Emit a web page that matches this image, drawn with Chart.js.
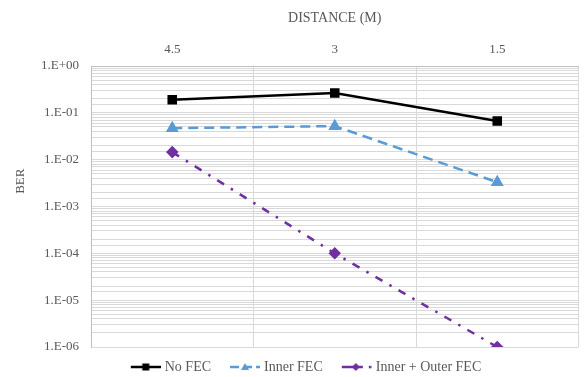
<!DOCTYPE html>
<html>
<head>
<meta charset="utf-8">
<script src="https://cdn.jsdelivr.net/npm/chart.js@4"></script>
<style>
  html, body { margin: 0; padding: 0; background: #fff; }
  #wrap { width: 586px; height: 377px; }
</style>
</head>
<body>
<div id="wrap"><canvas id="chart" width="586" height="377"></canvas></div>
<script>
// distances on the top axis
var distances = ['4.5', '3', '1.5'];

// BER values
var noFec = [0.19, 0.265, 0.067];
var innerFec = [0.047, 0.052, 0.0033];
var innerOuterFec = [0.0145, 0.0001, 0.000001];

var textColor = '#595959';
var gridColor = '#d9d9d9';
var serif = '"Liberation Serif", "DejaVu Serif", serif';
var font = { family: serif, size: 13 };
var bigFont = { family: serif, size: 14 };

// legend icon: line + marker like the spreadsheet legend,
// drawn 9px in from the left so the items sit apart
function legendIcon(color, dash, marker, dot) {
    var c = document.createElement('canvas');
    c.width = 39; c.height = 12;
    var ctx = c.getContext('2d');
    var x0 = 9;
    ctx.strokeStyle = color;
    ctx.fillStyle = color;
    ctx.lineWidth = 2.5;
    ctx.setLineDash(dash);
    ctx.beginPath();
    ctx.moveTo(x0, 6);
    ctx.lineTo(x0 + (dot ? 21 : 30), 6);
    ctx.stroke();
    ctx.setLineDash([]);
    var cx = x0 + (dot ? 14 : 15);
    ctx.beginPath();
    if (marker === 'rect') {
        ctx.rect(cx - 3.5, 2.5, 7, 7);
    } else if (marker === 'triangle') {
        ctx.moveTo(cx, 2); ctx.lineTo(cx + 4, 9); ctx.lineTo(cx - 4, 9); ctx.closePath();
    } else {
        ctx.moveTo(cx, 2); ctx.lineTo(cx + 4, 6); ctx.lineTo(cx, 10); ctx.lineTo(cx - 4, 6); ctx.closePath();
    }
    ctx.fill();
    if (dot) {
        ctx.fillRect(x0 + 27, 4.8, 2.5, 2.5);
    }
    return c;
}

function sciLabel(v) {
    var e = Math.round(Math.log10(v));
    var a = Math.abs(e);
    return '1.E' + (e < 0 ? '-' : '+') + (a < 10 ? '0' : '') + a;
}

// y axis title, sits a bit above the middle of the plot like the original
var berTitle = {
    id: 'berTitle',
    afterDraw: function (chart) {
        var a = chart.chartArea;
        var c = chart.ctx;
        c.save();
        c.translate(21, a.top + (a.bottom - a.top) * 0.41);
        c.rotate(-Math.PI / 2);
        c.fillStyle = textColor;
        c.font = '13px ' + serif;
        c.textAlign = 'center';
        c.textBaseline = 'middle';
        c.fillText('BER', 0, 0);
        c.restore();
    }
};

var ctx = document.getElementById('chart');
var myChart = new Chart(ctx, {
    type: 'line',
    data: {
        labels: distances,
        datasets: [
            {
                label: 'No FEC',
                data: noFec,
                borderColor: '#000000',
                backgroundColor: '#000000',
                borderWidth: 2.5,
                pointStyle: 'rect',
                pointRadius: 5,
                icon: legendIcon('#000000', [], 'rect', false)
            },
            {
                label: 'Inner FEC',
                data: innerFec,
                borderColor: '#5b9bd5',
                backgroundColor: '#5b9bd5',
                borderWidth: 2.5,
                borderDash: [10, 6],
                pointStyle: 'triangle',
                pointRadius: 5,
                icon: legendIcon('#5b9bd5', [9, 4], 'triangle', false)
            },
            {
                label: 'Inner + Outer FEC',
                data: innerOuterFec,
                borderColor: '#7030a0',
                backgroundColor: '#7030a0',
                borderWidth: 2.5,
                borderDash: [8, 8, 2.5, 8],
                pointStyle: 'rectRot',
                pointRadius: 4.5,
                icon: legendIcon('#7030a0', [], 'diamond', true)
            }
        ]
    },
    options: {
        responsive: false,
        animation: false,
        layout: { padding: { left: 24, right: 4, top: 10, bottom: -7 } },
        plugins: {
            tooltip: { enabled: false },
            legend: {
                position: 'bottom',
                labels: {
                    color: textColor,
                    font: bigFont,
                    usePointStyle: true,
                    pointStyleWidth: 33,
                    padding: 13,
                    generateLabels: function (chart) {
                        return chart.data.datasets.map(function (ds, i) {
                            return {
                                text: ds.label,
                                pointStyle: ds.icon,
                                fontColor: textColor,
                                lineWidth: 0,
                                datasetIndex: i
                            };
                        });
                    }
                }
            }
        },
        scales: {
            x: {
                type: 'category',
                position: 'top',
                offset: true,
                grid: { offset: true, color: gridColor, drawTicks: false },
                border: { color: '#bfbfbf' },
                ticks: { color: textColor, font: font, padding: 9 },
                title: { display: true, text: 'DISTANCE (M)', color: textColor, font: bigFont, padding: { top: 0, bottom: 6 } },
                afterFit: function (s) { s.height = 56; }
            },
            y: {
                type: 'logarithmic',
                min: 0.000001,
                max: 1,
                grid: { color: gridColor, drawTicks: false },
                border: { color: '#bfbfbf' },
                ticks: {
                    color: textColor,
                    font: font,
                    padding: 12,
                    autoSkip: false,
                    callback: function (v) {
                        var l = Math.log10(v);
                        return Math.abs(l - Math.round(l)) < 1e-9 ? sciLabel(v) : '';
                    }
                },
                afterFit: function (s) { s.width = 67; }
            }
        }
    },
    plugins: [berTitle]
});
</script>
</body>
</html>
